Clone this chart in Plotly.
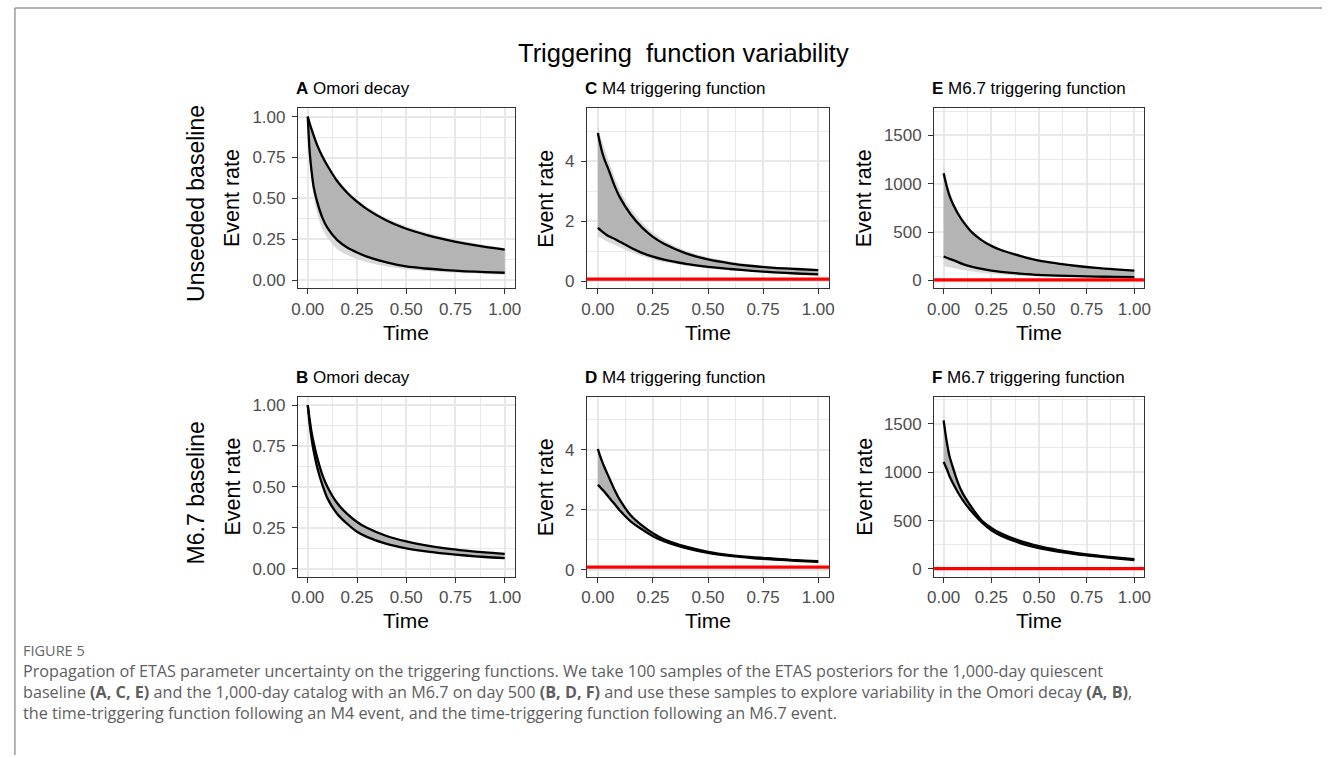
import plotly.graph_objects as go

W, H = 1329, 758
FONT = "Liberation Sans, Arial, sans-serif"
CAP_FONT = "Open Sans, Lato, sans-serif"

# ---------------- data ----------------
T = [0, 0.01, 0.02, 0.03, 0.05, 0.075, 0.1, 0.15, 0.2, 0.25, 0.3, 0.4, 0.5, 0.6, 0.7, 0.8, 0.9, 1.0]

# A: Omori decay, unseeded baseline
a_upper = [1.0, 0.958, 0.92, 0.885, 0.82, 0.755, 0.70, 0.605, 0.535, 0.48, 0.435, 0.365, 0.315, 0.278, 0.248, 0.224, 0.204, 0.187]
a_lower = [1.0, 0.78, 0.66, 0.57, 0.47, 0.38, 0.32, 0.245, 0.2, 0.17, 0.145, 0.11, 0.085, 0.072, 0.062, 0.055, 0.05, 0.046]
a_outer_upper = [1.0, 0.965, 0.93, 0.895, 0.835, 0.77, 0.715, 0.62, 0.55, 0.495, 0.45, 0.38, 0.33, 0.292, 0.262, 0.237, 0.216, 0.198]
a_outer_lower = [1.0, 0.74, 0.6, 0.51, 0.4, 0.31, 0.26, 0.19, 0.155, 0.13, 0.11, 0.085, 0.068, 0.057, 0.049, 0.043, 0.039, 0.035]

# B: Omori decay, M6.7 baseline
b_upper = [1.0, 0.91, 0.83, 0.77, 0.67, 0.57, 0.5, 0.4, 0.335, 0.286, 0.25, 0.2, 0.167, 0.143, 0.125, 0.111, 0.1, 0.091]
b_lower = [1.0, 0.88, 0.79, 0.72, 0.61, 0.51, 0.43, 0.335, 0.275, 0.226, 0.195, 0.152, 0.125, 0.106, 0.092, 0.081, 0.072, 0.065]
b_outer_upper = [1.0, 0.92, 0.845, 0.785, 0.685, 0.585, 0.515, 0.412, 0.345, 0.295, 0.258, 0.207, 0.173, 0.148, 0.13, 0.115, 0.104, 0.095]
b_outer_lower = [1.0, 0.87, 0.775, 0.705, 0.595, 0.495, 0.418, 0.325, 0.267, 0.22, 0.19, 0.148, 0.121, 0.103, 0.089, 0.078, 0.07, 0.063]

# C: M4 triggering function, unseeded baseline
c_upper = [4.95, 4.6, 4.3, 4.07, 3.7, 3.2, 2.8, 2.22, 1.8, 1.48, 1.25, 0.93, 0.73, 0.6, 0.51, 0.45, 0.41, 0.37]
c_lower = [1.78, 1.72, 1.66, 1.6, 1.5, 1.42, 1.32, 1.12, 0.95, 0.82, 0.72, 0.58, 0.48, 0.41, 0.35, 0.3, 0.26, 0.23]
c_outer_upper = [5.2, 4.9, 4.65, 4.42, 4.0, 3.5, 3.05, 2.42, 1.97, 1.62, 1.37, 1.02, 0.8, 0.66, 0.56, 0.49, 0.44, 0.4]
c_outer_lower = [1.5, 1.46, 1.42, 1.38, 1.3, 1.22, 1.14, 0.98, 0.84, 0.73, 0.64, 0.52, 0.43, 0.37, 0.32, 0.27, 0.24, 0.21]
c_background = 0.07

# D: M4 triggering function, M6.7 baseline
d_upper = [4.03, 3.8, 3.6, 3.42, 3.09, 2.68, 2.33, 1.81, 1.48, 1.22, 1.02, 0.77, 0.6, 0.49, 0.42, 0.37, 0.32, 0.29]
d_lower = [2.84, 2.76, 2.68, 2.6, 2.42, 2.2, 1.98, 1.61, 1.35, 1.12, 0.95, 0.72, 0.56, 0.46, 0.39, 0.34, 0.3, 0.26]
d_outer_upper = [4.3, 3.95, 3.7, 3.5, 3.15, 2.73, 2.37, 1.84, 1.5, 1.24, 1.04, 0.78, 0.61, 0.5, 0.43, 0.375, 0.325, 0.295]
d_outer_lower = [2.75, 2.68, 2.6, 2.52, 2.36, 2.15, 1.94, 1.58, 1.33, 1.1, 0.93, 0.71, 0.55, 0.45, 0.38, 0.33, 0.29, 0.25]
d_background = 0.09

# E: M6.7 triggering function, unseeded baseline
e_upper = [1108, 1020, 945, 880, 784, 690, 614, 494, 415, 358, 315, 255, 205, 175, 150, 130, 115, 102]
e_lower = [249, 240, 232, 224, 210, 190, 170, 142, 120, 102, 90, 72, 58, 51, 46, 41, 37, 34]
e_outer_upper = [1210, 1100, 1010, 935, 825, 720, 640, 515, 432, 372, 327, 265, 213, 182, 156, 136, 120, 107]
e_outer_lower = [150, 146, 142, 138, 130, 120, 110, 93, 80, 70, 62, 50, 42, 37, 33, 30, 27, 25]
e_background = 6

# F: M6.7 triggering function, M6.7 baseline
f_upper = [1534, 1390, 1270, 1170, 1038, 890, 781, 627, 500, 425, 368, 290, 235, 195, 165, 140, 120, 103]
f_lower = [1106, 1060, 1015, 960, 880, 790, 712, 585, 480, 400, 345, 268, 216, 180, 152, 130, 110, 92]
f_outer_upper = [1620, 1450, 1315, 1205, 1060, 905, 792, 635, 507, 430, 372, 293, 237, 197, 167, 142, 122, 105]
f_outer_lower = [1080, 1035, 995, 950, 870, 780, 703, 575, 475, 395, 340, 265, 212, 177, 150, 128, 108, 90]
f_background = 4

x_ticks = [0, 0.25, 0.5, 0.75, 1.0]
panel_letters = ["A", "C", "E", "B", "D", "F"]
panel_names = ["Omori decay", "M4 triggering function", "M6.7 triggering function",
               "Omori decay", "M4 triggering function", "M6.7 triggering function"]
row_labels = ["Unseeded baseline", "M6.7 baseline"]
main_title = "Triggering\u00a0 function variability"
caption_head = "FIGURE 5"
caption_lines = [
    "Propagation of ETAS parameter uncertainty on the triggering functions. We take 100 samples of the ETAS posteriors for the 1,000-day quiescent",
    "baseline <b>(A, C, E)</b> and the 1,000-day catalog with an M6.7 on day 500 <b>(B, D, F)</b> and use these samples to explore variability in the Omori decay <b>(A, B)</b>,",
    "the time-triggering function following an M4 event, and the time-triggering function following an M6.7 event.",
]

# ---------------- layout geometry (pixels) ----------------
col_x = [(294, 513), (586, 831), (937, 1149)]
row_y = [(108, 289), (398, 579)]
y_ranges = [[-0.05, 1.05], [-0.24, 5.77], [-82, 1777]]
y_dticks = [0.25, 2, 500]
y_fmt = [".2f", "d", "d"]

panels = [
    (a_upper, a_lower, a_outer_upper, a_outer_lower, None),
    (c_upper, c_lower, c_outer_upper, c_outer_lower, c_background),
    (e_upper, e_lower, e_outer_upper, e_outer_lower, e_background),
    (b_upper, b_lower, b_outer_upper, b_outer_lower, None),
    (d_upper, d_lower, d_outer_upper, d_outer_lower, d_background),
    (f_upper, f_lower, f_outer_upper, f_outer_lower, f_background),
]


def px(x):
    return x / W


def py(y):
    return 1 - y / H


fig = go.Figure()
layout = {}
shapes = []
annotations = []

GRID = "#e8e8e8"

for i, (up, lo, oup, olo, bg) in enumerate(panels):
    r, c = divmod(i, 3)
    n = i + 1
    xa = "x" if n == 1 else f"x{n}"
    ya = "y" if n == 1 else f"y{n}"
    xk = "xaxis" if n == 1 else f"xaxis{n}"
    yk = "yaxis" if n == 1 else f"yaxis{n}"
    x0, x1 = col_x[c]
    y0, y1 = row_y[r]

    common = dict(
        showgrid=True, gridcolor=GRID, gridwidth=2,
        showline=True, linecolor="#333333", linewidth=1, mirror=True,
        ticks="outside", ticklen=5, tickwidth=1, tickcolor="#333333",
        tickfont=dict(family=FONT, size=17, color="#4d4d4d"),
        zeroline=False, fixedrange=True,
    )
    layout[xk] = dict(
        domain=[px(x0), px(x1)], anchor=ya, range=[-0.05, 1.05],
        tickmode="array", tickvals=x_ticks, ticktext=[f"{v:.2f}" for v in x_ticks],
        minor=dict(tick0=0.125, dtick=0.25, showgrid=True, gridcolor=GRID, gridwidth=1, ticks=""),
        **common,
    )
    layout[yk] = dict(
        domain=[py(y1), py(y0)], anchor=xa, range=y_ranges[c],
        tick0=0, dtick=y_dticks[c], tickformat=y_fmt[c],
        minor=dict(tick0=0, dtick=y_dticks[c] / 2, showgrid=True, gridcolor=GRID, gridwidth=1, ticks=""),
        ticklabelstandoff=3,
        **common,
    )

    sp = dict(shape="spline", smoothing=0.8)
    fig.add_trace(go.Scatter(x=T, y=olo, mode="lines", line=dict(width=0, **sp),
                             hoverinfo="skip", showlegend=False, xaxis=xa, yaxis=ya))
    fig.add_trace(go.Scatter(x=T, y=oup, mode="lines", line=dict(width=0, **sp),
                             fill="tonexty", fillcolor="#d9d9d9",
                             hoverinfo="skip", showlegend=False, xaxis=xa, yaxis=ya))
    fig.add_trace(go.Scatter(x=T, y=lo, mode="lines", line=dict(width=0, **sp),
                             hoverinfo="skip", showlegend=False, xaxis=xa, yaxis=ya))
    fig.add_trace(go.Scatter(x=T, y=up, mode="lines", line=dict(width=0, **sp),
                             fill="tonexty", fillcolor="#b4b4b4",
                             hoverinfo="skip", showlegend=False, xaxis=xa, yaxis=ya))
    for curve in (lo, up):
        fig.add_trace(go.Scatter(x=T, y=curve, mode="lines",
                                 line=dict(color="black", width=2.3, **sp),
                                 hoverinfo="skip", showlegend=False, xaxis=xa, yaxis=ya))

    if bg is not None:
        shapes.append(dict(type="line", xref=f"{xa} domain", yref=ya, x0=0, x1=1, y0=bg, y1=bg,
                           line=dict(color="#ff0000", width=3.2), layer="above"))

    # panel title
    ty = 88 if r == 0 else 378
    annotations.append(dict(
        x=px(x0 - 4), y=py(ty), xref="paper", yref="paper", xanchor="left", yanchor="middle",
        text=f"<b>{panel_letters[i]}</b> {panel_names[i]}", showarrow=False,
        font=dict(family=FONT, size=17, color="black")))
    # x axis title
    tx0 = x0 + (x1 - x0) * 0.05 / 1.1
    tx1 = x0 + (x1 - x0) * 1.05 / 1.1
    annotations.append(dict(
        x=px((tx0 + tx1) / 2), y=py(y1 + 44), xref="paper", yref="paper",
        xanchor="center", yanchor="middle", text="Time", showarrow=False,
        font=dict(family=FONT, size=21, color="black")))
    # y axis title
    ey_x = [228, 545, 867][c]
    annotations.append(dict(
        x=px(ey_x), y=py((y0 + y1) / 2), xref="paper", yref="paper",
        xanchor="center", yanchor="middle", text="Event rate", textangle=-90, showarrow=False,
        font=dict(family=FONT, size=21.5, color="black")))

# row labels
for r, lab in enumerate(row_labels):
    annotations.append(dict(
        x=px(191), y=py([203, 494][r]), xref="paper", yref="paper",
        xanchor="center", yanchor="middle", text=lab, textangle=-90, showarrow=False,
        font=dict(family=FONT, size=23, color="black")))

# main title
annotations.append(dict(
    x=px(684), y=py(52), xref="paper", yref="paper", xanchor="center", yanchor="middle",
    text=main_title, showarrow=False, font=dict(family=FONT, size=25.5, color="black")))

# caption
annotations.append(dict(
    x=px(14), y=py(653), xref="paper", yref="paper", xanchor="left", yanchor="middle",
    text=caption_head, showarrow=False, font=dict(family=CAP_FONT, size=14.5, color="#666666")))
annotations.append(dict(
    x=px(14), y=py(695), xref="paper", yref="paper", xanchor="left", yanchor="middle", align="left",
    text="<br>".join(caption_lines), showarrow=False,
    font=dict(family=CAP_FONT, size=16.2, color="#5e5e5e")))

# page frame
shapes.append(dict(type="line", xref="paper", yref="paper", x0=px(8), x1=1.0, y0=py(7), y1=py(7),
                   line=dict(color="#9a9a9a", width=1.5), layer="above"))
shapes.append(dict(type="line", xref="paper", yref="paper", x0=px(8), x1=px(8), y0=py(7), y1=0,
                   line=dict(color="#9a9a9a", width=1.5), layer="above"))

fig.update_layout(
    width=W, height=H, margin=dict(l=0, r=0, t=0, b=0),
    paper_bgcolor="white", plot_bgcolor="white",
    showlegend=False, shapes=shapes, annotations=annotations,
    **layout,
)

fig.write_html("out.html", config={"displayModeBar": False},
               post_script="document.body.style.margin='0px';document.body.style.overflow='hidden';")
